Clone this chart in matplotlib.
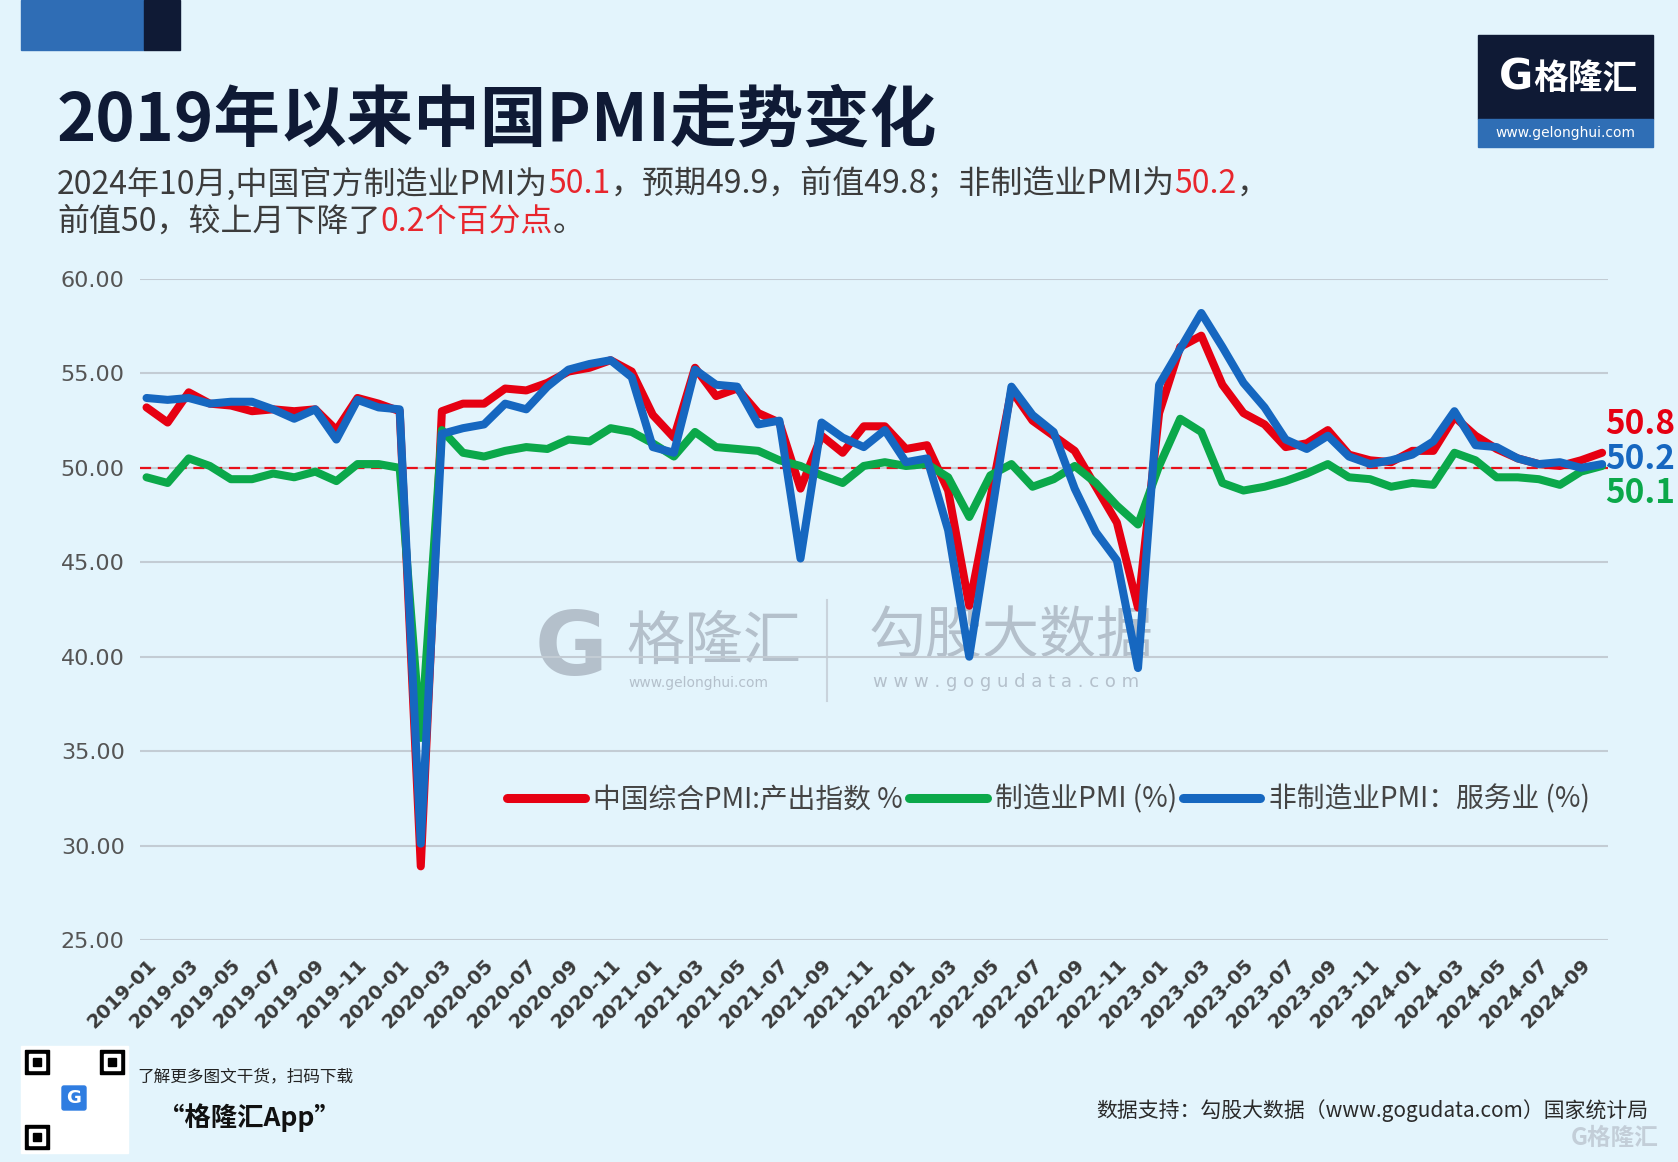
import matplotlib
matplotlib.use("Agg")
import matplotlib.pyplot as plt
import matplotlib.transforms as mtransforms
from matplotlib.patches import Rectangle, FancyBboxPatch

plt.rcParams['font.family'] = ['Noto Sans CJK SC', 'DejaVu Sans']

# monthly data, 2019-01 .. 2024-10
months = [f"{y}-{m:02d}" for y in range(2019, 2025) for m in range(1, 13)][:70]

composite = [53.2, 52.4, 54.0, 53.4, 53.3, 53.0, 53.1, 53.0, 53.1, 52.0, 53.7, 53.4,
             53.0, 28.9, 53.0, 53.4, 53.4, 54.2, 54.1, 54.5, 55.1, 55.3, 55.7, 55.1,
             52.8, 51.6, 55.3, 53.8, 54.2, 52.9, 52.4, 48.9, 51.7, 50.8, 52.2, 52.2,
             51.0, 51.2, 48.8, 42.7, 48.4, 54.1, 52.5, 51.7, 50.9, 49.0, 47.1, 42.6,
             52.9, 56.4, 57.0, 54.4, 52.9, 52.3, 51.1, 51.3, 52.0, 50.7, 50.4, 50.3,
             50.9, 50.9, 52.7, 51.7, 51.0, 50.5, 50.2, 50.1, 50.4, 50.8]

manufacturing = [49.5, 49.2, 50.5, 50.1, 49.4, 49.4, 49.7, 49.5, 49.8, 49.3, 50.2, 50.2,
                 50.0, 35.7, 52.0, 50.8, 50.6, 50.9, 51.1, 51.0, 51.5, 51.4, 52.1, 51.9,
                 51.3, 50.6, 51.9, 51.1, 51.0, 50.9, 50.4, 50.1, 49.6, 49.2, 50.1, 50.3,
                 50.1, 50.2, 49.5, 47.4, 49.6, 50.2, 49.0, 49.4, 50.1, 49.2, 48.0, 47.0,
                 50.1, 52.6, 51.9, 49.2, 48.8, 49.0, 49.3, 49.7, 50.2, 49.5, 49.4, 49.0,
                 49.2, 49.1, 50.8, 50.4, 49.5, 49.5, 49.4, 49.1, 49.8, 50.1]

services = [53.7, 53.6, 53.7, 53.4, 53.5, 53.5, 53.1, 52.6, 53.1, 51.5, 53.6, 53.2,
            53.1, 30.1, 51.8, 52.1, 52.3, 53.4, 53.1, 54.3, 55.2, 55.5, 55.7, 54.8,
            51.1, 50.8, 55.2, 54.4, 54.3, 52.3, 52.5, 45.2, 52.4, 51.6, 51.1, 52.0,
            50.3, 50.5, 46.7, 40.0, 47.1, 54.3, 52.8, 51.9, 48.9, 46.6, 45.1, 39.4,
            54.4, 56.3, 58.2, 56.4, 54.5, 53.2, 51.5, 51.0, 51.7, 50.6, 50.2, 50.4,
            50.7, 51.4, 53.0, 51.2, 51.1, 50.5, 50.2, 50.3, 50.0, 50.2]

series_names = ["中国综合PMI:产出指数 %", "制造业PMI (%)", "非制造业PMI：服务业 (%)"]
RED, GREEN, BLUE = "#E60012", "#0BA84A", "#1667C0"
BG = "#E3F4FC"
NAVY = "#0F1A35"
GRAY_TXT = "#3C3C3C"

W, H = 1678, 1162
fig = plt.figure(figsize=(W / 100, H / 100), dpi=100, facecolor=BG)

# overlay axes in pixel coordinates for decoration
ov = fig.add_axes([0, 0, 1, 1], zorder=0)
ov.set_xlim(0, W)
ov.set_ylim(H, 0)
ov.axis('off')

ov.add_patch(Rectangle((21, 0), 123, 50, color="#2F6DB5"))
ov.add_patch(Rectangle((144, 0), 36, 50, color=NAVY))

ov.text(57, 121, "2019年以来中国PMI走势变化", fontsize=48, fontweight='bold',
        color=NAVY, va='center', ha='left')

renderer = fig.canvas.get_renderer()


def rich(x, y, parts, size):
    for s, c in parts:
        t = ov.text(x, y, s, color=c, fontsize=size, va='center', ha='left')
        x += t.get_window_extent(renderer).width


rich(57, 184, [("2024年10月,中国官方制造业PMI为", GRAY_TXT), ("50.1", "#E8262D"),
               ("，预期49.9，前值49.8；非制造业PMI为", GRAY_TXT), ("50.2", "#E8262D"),
               ("，", GRAY_TXT)], 23)
rich(57, 222, [("前值50，较上月下降了", GRAY_TXT), ("0.2个百分点", "#E8262D"),
               ("。", GRAY_TXT)], 23)

# logo box top right
ov.add_patch(Rectangle((1478, 35), 175, 84, color=NAVY))
ov.add_patch(Rectangle((1478, 119), 175, 28, color="#2F6EB5"))
ov.text(1516, 78, "G", fontsize=30, fontweight='bold', color='white', va='center', ha='center',
        family='DejaVu Sans')
ov.text(1585, 78, "格隆汇", fontsize=25, fontweight='bold', color='white', va='center', ha='center')
ov.text(1565, 133, "www.gelonghui.com", fontsize=10, color='white', va='center', ha='center',
        family='DejaVu Sans')

# watermarks
wm = "#B4C0CB"
ov.text(571, 650, "G", fontsize=64, fontweight='bold', color=wm, va='center', ha='center',
        family='DejaVu Sans')
ov.text(626, 642, "格隆汇", fontsize=42, color=wm, va='center', ha='left')
ov.text(628, 683, "www.gelonghui.com", fontsize=10, color=wm, va='center', ha='left',
        family='DejaVu Sans')
ov.plot([827, 827], [600, 701], color="#C9D3DC", lw=1.5)
ov.text(869, 637, "勾股大数据", fontsize=41, color=wm, va='center', ha='left')
ov.text(873, 682, "w w w . g o g u d a t a . c o m", fontsize=13, color=wm, va='center',
        ha='left', family='DejaVu Sans')

# footer
ov.add_patch(Rectangle((21, 1046), 107, 107, color='white'))
for qx, qy in [(25, 1050), (100, 1050), (25, 1125)]:
    ov.add_patch(Rectangle((qx, qy), 24, 24, color='black'))
    ov.add_patch(Rectangle((qx + 4, qy + 4), 16, 16, color='white'))
    ov.add_patch(Rectangle((qx + 8, qy + 8), 8, 8, color='black'))
ov.add_patch(FancyBboxPatch((64, 1088), 20, 20, boxstyle="round,pad=2", color="#2F7DE1"))
ov.text(74, 1098, "G", fontsize=13, fontweight='bold', color='white', va='center',
        ha='center', family='DejaVu Sans')
ov.text(137, 1077, "了解更多图文干货，扫码下载", fontsize=12, color="#222222",
        va='center', ha='left', style='italic')
ov.text(158, 1118, "“格隆汇App”", fontsize=19, fontweight='bold', color="#111111",
        va='center', ha='left', style='italic')
ov.text(1648, 1111, "数据支持：勾股大数据（www.gogudata.com）国家统计局", fontsize=15,
        color="#2A2A2A", va='center', ha='right')
ov.text(1615, 1138, "G格隆汇", fontsize=17, fontweight='bold', color="#C3CED8",
        va='center', ha='center')

# main chart
ax = fig.add_axes([140 / W, 1 - 940 / H, 1468 / W, 661 / H], zorder=2)
ax.set_facecolor('none')
x = list(range(len(months)))

ax.axhline(50, color="#E8101A", lw=1.6, ls=(0, (5, 3)), zorder=2)
for vals, col, name in [(composite, RED, series_names[0]),
                        (manufacturing, GREEN, series_names[1]),
                        (services, BLUE, series_names[2])]:
    ax.plot(x, vals, color=col, lw=5.8, label=name, solid_joinstyle='round',
            solid_capstyle='round', zorder=3)

ax.set_xlim(-0.31, 69.28)
ax.set_ylim(25, 60)
ax.set_yticks([25, 30, 35, 40, 45, 50, 55, 60])
ax.set_yticklabels([f"{v:.2f}" for v in [25, 30, 35, 40, 45, 50, 55, 60]],
                   family='DejaVu Sans', fontsize=16, color="#555555")
ax.set_xticks(x[::2])
ax.set_xticklabels(months[::2], rotation=45, ha='right', va='top', rotation_mode='anchor',
                   family='DejaVu Sans', fontsize=14, fontweight='bold', color="#3A3A3A")
off = mtransforms.ScaledTranslation(8 / 100, 0, fig.dpi_scale_trans)
for lab in ax.get_xticklabels():
    lab.set_transform(lab.get_transform() + off)
ax.tick_params(axis='both', length=0)
ax.tick_params(axis='y', pad=11)
ax.tick_params(axis='x', pad=11)
ax.grid(axis='y', color="#C3CCD4", lw=1.5)
ax.set_axisbelow(True)
for sp in ax.spines.values():
    sp.set_visible(False)

leg = ax.legend(loc='center right', bbox_to_anchor=(0.995, 0.212), ncol=3, frameon=False,
                prop={'size': 20, 'weight': 'medium'}, handlelength=2.8, handletextpad=0.3,
                columnspacing=0.2, labelcolor="#444444", borderaxespad=0)
for line in leg.get_lines():
    line.set_linewidth(6.5)

# end labels
last = len(months) - 1
for vals, col, dy in [(composite, RED, 20), (services, BLUE, 3), (manufacturing, GREEN, -20)]:
    ax.annotate(f"{vals[-1]:.1f}", xy=(last, vals[-1]), xytext=(2, dy),
                textcoords='offset points', color=col, fontsize=24, fontweight='bold',
                va='center', ha='left', annotation_clip=False)

fig.savefig("out.png", dpi=100, facecolor=BG)
